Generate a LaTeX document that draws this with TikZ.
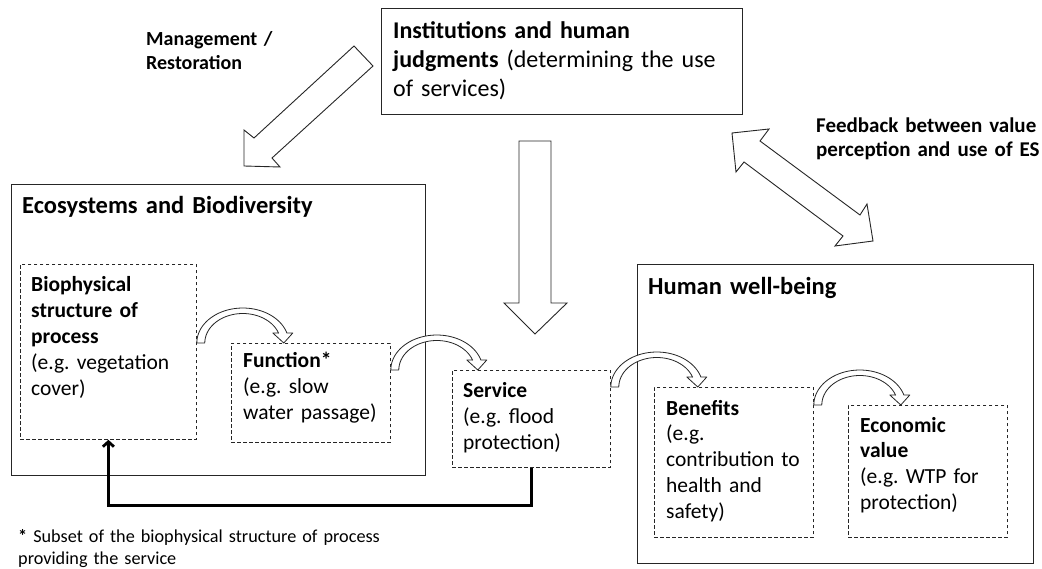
\documentclass[tikz,border=0pt]{standalone}
\usepackage{fontspec}
\setmainfont{Carlito}
\usetikzlibrary{arrows.meta}
\newcommand\arcarrow[1]{%
  \begin{scope}[shift={(#1)}]
    \draw[arcstyle] (0,0)
      -- plot[domain=180:16.6,samples=40] ({46+46*cos(\x)},{-35*sin(\x)})
      -- (96,-10) -- (87,0) -- (76,-10) -- (81.8,-10)
      -- plot[domain=19.5:180,samples=40] ({46+38*cos(\x)},{-29.5*sin(\x)})
      -- cycle;
  \end{scope}}
\begin{document}
\frenchspacing
\begin{tikzpicture}[x=1pt,y=-1pt,
  solidbox/.style={draw=black!85, line width=1.1pt, inner sep=0pt, anchor=north west},
  dashbox/.style={draw=black!85, line width=0.8pt, dash pattern=on 3.5pt off 2.5pt, inner sep=0pt, anchor=north west},
  bodytxt/.style={inner sep=0pt, anchor=base west, align=left, text width=#1,
    font=\fontsize{21.5pt}{25.8pt}\selectfont},
  bodytxt/.default=200pt,
  labtxt/.style={inner sep=0pt, anchor=base west, align=left, text width=260pt,
    font=\fontsize{20pt}{24pt}\selectfont\bfseries},
  blockarrow/.style={draw=black!85, line width=0.9pt, fill=white, line join=miter},
  arcstyle/.style={draw=black!85, line width=0.8pt, fill=white, line join=round},
  fbline/.style={draw=black, line width=2.8pt, -{Straight Barb[length=5pt,width=11pt]}}]
\useasboundingbox (0,0) rectangle (1042,569);
\fill[white] (0,0) rectangle (1042,569);

% top box
\node[solidbox, minimum width=361pt, minimum height=106pt] (inst) at (381,8) {};
\node[bodytxt=350pt, font=\fontsize{24pt}{28.7pt}\selectfont] (instT) at (393,39)
  {\textbf{Institutions and human}\\\textbf{judgments} (determining the use\\of services)};

% labels
\node[labtxt] (mgmt) at (146,46) {Management /\\Restoration};
\node[labtxt, text width=225pt, font=\fontsize{21pt}{24pt}\selectfont\bfseries] (feed) at (816,133) {Feedback between value\\perception and use of ES};

% ecosystem box
\node[solidbox, minimum width=414pt, minimum height=291pt] (eco) at (11,184) {};
\node[bodytxt=400pt, font=\fontsize{24.5pt}{27pt}\selectfont\bfseries] (ecoT) at (22,214) {Ecosystems and Biodiversity};
\node[dashbox, minimum width=176pt, minimum height=175pt] (bio) at (20,264) {};
\node[bodytxt=170pt] (bioT) at (31,292) {\textbf{Biophysical}\\\textbf{structure of}\\\textbf{process}\\(e.g. vegetation\\cover)};
\node[dashbox, minimum width=159pt, minimum height=99pt] (func) at (231,343) {};
\node[bodytxt=155pt] (funcT) at (243,368) {\textbf{Function*}\\(e.g. slow\\water passage)};

% service
\node[dashbox, minimum width=158pt, minimum height=97pt] (serv) at (452,370) {};
\node[bodytxt=150pt] (servT) at (463,398) {\textbf{Service}\\(e.g. flood\\protection)};

% human well-being
\node[solidbox, minimum width=396pt, minimum height=299pt] (hwb) at (637,264) {};
\node[bodytxt=380pt, font=\fontsize{24.5pt}{27pt}\selectfont\bfseries] (hwbT) at (648,295) {Human well-being};
\node[dashbox, minimum width=159pt, minimum height=150pt] (ben) at (654,387) {};
\node[bodytxt=155pt] (benT) at (666,415) {\textbf{Benefits}\\(e.g.\\contribution to\\health and\\safety)};
\node[dashbox, minimum width=159pt, minimum height=132pt] (econ) at (848,405) {};
\node[bodytxt=155pt] (econT) at (860,432) {\textbf{Economic}\\\textbf{value}\\(e.g. WTP for\\protection)};

% footnote
\node[inner sep=0pt, anchor=base west, align=left, text width=420pt,
  font=\fontsize{18.2pt}{22pt}\selectfont] (foot) at (18,542)
  {\textbf{*} Subset of the biophysical structure of process\\providing the service};

% block arrows
\draw[blockarrow] (354,46) -- (254,138) -- (244,130) -- (244,166) -- (280,167) -- (272,158) -- (373,66) -- cycle;
\draw[blockarrow] (519,141) -- (519,303) -- (504,303) -- (535,334) -- (567,303) -- (551,303) -- (551,141) -- cycle;
\draw[blockarrow] (732,133) -- (769,129) -- (760,141) -- (860,215) -- (867,204) -- (873,241) -- (835,246) -- (843,236) -- (744,162) -- (736,172) -- cycle;

% curved arrows
\arcarrow{bio.east |- func.north}
\arcarrow{func.east |- serv.north}
\arcarrow{serv.east |- ben.north}
\arcarrow{ben.east |- econ.north}

% feedback line
\draw[fbline] (serv.south) -- ++(0,38) -| (bio.south);
\end{tikzpicture}
\end{document}
